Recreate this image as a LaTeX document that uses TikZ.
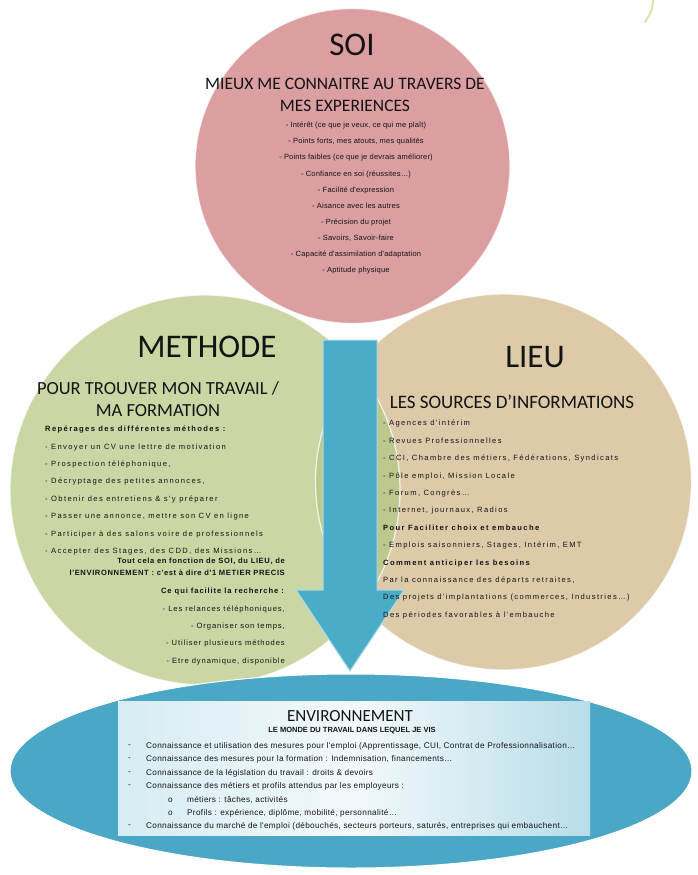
\documentclass[tikz,border=0pt]{standalone}
\usepackage{fontspec}
\setmainfont{Carlito}
\newfontfamily\smallf{Liberation Sans}
\newfontfamily\soif[LetterSpace=2.5]{Liberation Sans}
\newfontfamily\metf[LetterSpace=18]{Liberation Sans}
\newfontfamily\metbf[LetterSpace=8]{Liberation Sans}
\newfontfamily\metrf[LetterSpace=12]{Liberation Sans}
\newfontfamily\lieuf[LetterSpace=18]{Liberation Sans}
\newfontfamily\envf[LetterSpace=4]{Liberation Sans}
\usetikzlibrary{shapes.geometric,calc}
\definecolor{soic}{HTML}{DB9EA1}
\definecolor{metc}{HTML}{CAD6A4}
\definecolor{lieuc}{HTML}{DCCAA8}
\definecolor{smc}{HTML}{C4AC83}
\definecolor{slc}{HTML}{D0A792}
\definecolor{mlc}{HTML}{BDC88D}
\definecolor{smlc}{HTML}{B9A87B}
\definecolor{envc}{HTML}{4BA7C6}
\definecolor{arrc}{HTML}{4BACC8}
\definecolor{txt}{HTML}{141414}
\definecolor{boxl}{HTML}{D6ECF3}
\definecolor{boxm}{HTML}{F2F9FB}
\definecolor{boxr}{HTML}{B8DDE9}
\definecolor{stray}{HTML}{DCE2A8}
\tikzset{
  bigtitle/.style={font=\fontsize{33}{33}\selectfont, text=txt, inner sep=0pt},
  subtitle/.style={text=txt, inner sep=0pt, align=center},
  listc/.style={font=\soif\fontsize{7.5}{16.1}\selectfont, text=txt, inner sep=0pt, align=center},
  listl/.style={font=\metf\fontsize{7.6}{17.4}\selectfont, text=txt, inner sep=0pt, align=left},
  listr/.style={font=\metrf\fontsize{7.6}{17.4}\selectfont, text=txt, inner sep=0pt, align=right},
  listli/.style={font=\lieuf\fontsize{7.6}{17.4}\selectfont, text=txt, inner sep=0pt, align=left},
  envline/.style={font=\envf\fontsize{8.2}{9}\selectfont, text=txt, inner sep=0pt, anchor=west},
  ring/.style={draw=white, line width=1.3pt, opacity=0.75}
}
\begin{document}
\begin{tikzpicture}[x=1pt,y=-1pt]
\useasboundingbox (0,0) rectangle (697,875);
\fill[white] (0,0) rectangle (697,875);
% circle centres
\coordinate (cS) at (352.5,166);
\coordinate (cM) at (205,490);
\coordinate (cL) at (503.5,482);
% base discs
\fill[soic] (cS) circle[radius=157.5pt];
\fill[metc] (cM) circle[radius=195pt];
\fill[lieuc] (cL) circle[radius=188pt];
% overlaps
\begin{scope}
  \clip (cM) circle[radius=195pt];
  \fill[mlc] (cL) circle[radius=188pt];
\end{scope}
\begin{scope}
  \clip (cS) circle[radius=157.5pt];
  \fill[smc] (cM) circle[radius=195pt];
  \fill[slc] (cL) circle[radius=188pt];
  \clip (cM) circle[radius=195pt];
  \fill[smlc] (cL) circle[radius=188pt];
\end{scope}
\draw[ring] (cS) circle[radius=157.5pt];
\draw[ring] (cM) circle[radius=195pt];
\draw[ring] (cL) circle[radius=188pt];
% stray mark top right
\draw[stray, line width=2pt, line cap=round] (653,0) .. controls (652,11) .. (645,22);

% environment ellipse and box
\node[ellipse, fill=envc, draw=white, line width=1pt, minimum width=682pt, minimum height=194pt, inner sep=0pt] (env) at (351,771) {};
\node[rectangle, minimum width=472pt, minimum height=134pt, inner sep=0pt, left color=boxl, right color=boxr, middle color=boxm] (envbox) at (354,768.5) {};

% arrow
\coordinate (atop) at (350,340);
\coordinate (atip) at (350,671);
\fill[arrc, draw=white!55!arrc, line width=1pt]
  ($(atop)+(-27,0)$) -- ($(atop)+(27,0)$) -- ($(atip)+(27,-81)$) -- ($(atip)+(54,-81)$)
  -- (atip) -- ($(atip)+(-54,-81)$) -- ($(atip)+(-27,-81)$) -- cycle;

% SOI
\node[bigtitle] (soit) at (352,45) {SOI};
\node[subtitle, font=\fontsize{17.5}{21.5}\selectfont] (sois) at (345,95) {MIEUX ME CONNAITRE AU TRAVERS DE\\MES EXPERIENCES};
\node[listc, anchor=north] (soil) at (356,122) {- Intérêt (ce que je veux, ce qui me plaît)\\
- Points forts, mes atouts, mes qualités\\
- Points faibles (ce que je devrais améliorer)\\
- Confiance en soi (réussites…)\\
- Facilité d'expression\\
- Aisance avec les autres\\
- Précision du projet\\
- Savoirs, Savoir-faire\\
- Capacité d'assimilation d'adaptation\\
- Aptitude physique};

% METHODE
\node[bigtitle] (mett) at (207,347) {METHODE};
\node[subtitle, font=\fontsize{18.5}{21.5}\selectfont] (mets) at (158,399) {POUR TROUVER MON TRAVAIL /\\MA FORMATION};
\node[listl, anchor=north west] (metl) at (45,426) {\textbf{Repérages des différentes méthodes :}\\
- Envoyer un CV une lettre de motivation\\
- Prospection téléphonique,\\
- Décryptage des petites annonces,\\
- Obtenir des entretiens \& s'y préparer\\
- Passer une annonce, mettre son CV en ligne\\
- Participer à des salons voire de professionnels\\
- Accepter des Stages, des CDD, des Missions…};
\node[font=\metbf\bfseries\fontsize{7.6}{11.5}\selectfont, text=txt, inner sep=0pt, align=right, anchor=north east] (metc2) at (285,558) {Tout cela en fonction de SOI, du LIEU, de\\l'ENVIRONNEMENT : c'est à dire d'1 METIER PRECIS};
\node[listr, anchor=north east] (metr) at (285,588) {\textbf{Ce qui facilite la recherche :}\\
- Les relances téléphoniques,\\
- Organiser son temps,\\
- Utiliser plusieurs méthodes\\
- Etre dynamique, disponible};

% LIEU
\node[bigtitle] (lieut) at (535,357) {LIEU};
\node[subtitle, font=\fontsize{19}{21.5}\selectfont] (lieus) at (512,402) {LES SOURCES D'INFORMATIONS};
\node[listli, anchor=north west] (lieul) at (383,420) {- Agences d'intérim\\
- Revues Professionnelles\\
- CCI, Chambre des métiers, Fédérations, Syndicats\\
- Pôle emploi, Mission Locale\\
- Forum, Congrès…\\
- Internet, journaux, Radios\\
\textbf{Pour Faciliter choix et embauche}\\
- Emplois saisonniers, Stages, Intérim, EMT\\
\textbf{Comment anticiper les besoins}\\
Par la connaissance des départs retraites,\\
Des projets d'implantations (commerces, Industries…)\\
Des périodes favorables à l'embauche};

% ENVIRONNEMENT text
\node[font=\fontsize{17}{18}\selectfont, text=txt, inner sep=0pt] (envt) at (350,716) {ENVIRONNEMENT};
\node[font=\smallf\bfseries\fontsize{7.5}{8}\selectfont, text=txt, inner sep=0pt] (envs) at (352,731) {LE MONDE DU TRAVAIL DANS LEQUEL JE VIS};
\node[envline] (ed1) at (128,746) {-};
\node[envline] (e1) at (146,746) {Connaissance et utilisation des mesures pour l'emploi (Apprentissage, CUI, Contrat de Professionnalisation…};
\node[envline] (ed2) at (128,759.5) {-};
\node[envline] (e2) at (146,759.5) {Connaissance des mesures pour la formation : Indemnisation, financements…};
\node[envline] (ed3) at (128,773) {-};
\node[envline] (e3) at (146,773) {Connaissance de la législation du travail : droits \& devoirs};
\node[envline] (ed4) at (128,786.5) {-};
\node[envline] (e4) at (146,786.5) {Connaissance des métiers et profils attendus par les employeurs :};
\node[envline] (eo5) at (168,800) {o};
\node[envline] (e5) at (187,800) {métiers : tâches, activités};
\node[envline] (eo6) at (168,813) {o};
\node[envline] (e6) at (187,813) {Profils : expérience, diplôme, mobilité, personnalité…};
\node[envline] (ed7) at (128,826.5) {-};
\node[envline] (e7) at (146,826.5) {Connaissance du marché de l'emploi (débouchés, secteurs porteurs, saturés, entreprises qui embauchent…};
\end{tikzpicture}
\end{document}
